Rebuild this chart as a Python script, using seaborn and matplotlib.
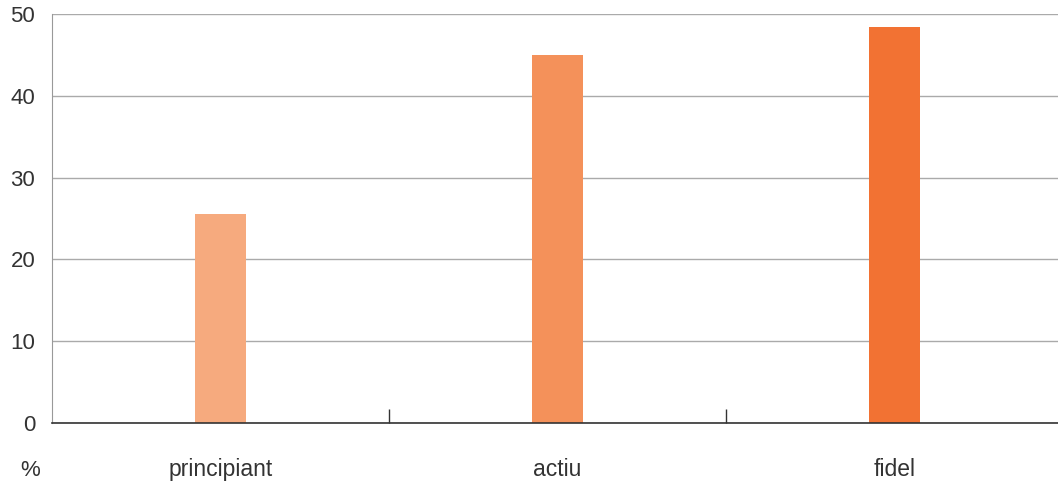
import matplotlib
matplotlib.use("Agg")
import matplotlib.pyplot as plt
import seaborn as sns
import pandas as pd

# data
categories = ["principiant", "actiu", "fidel"]
values = [25.5, 45.0, 48.4]
colors = ["#F6AA7E", "#F4915A", "#F27233"]

df = pd.DataFrame({"cat": categories, "val": values})

sns.set_style("white")
plt.rcParams["font.family"] = ["Liberation Sans", "DejaVu Sans"]

fig = plt.figure(figsize=(10.58, 4.83), dpi=100)
ax = fig.add_axes([0.049, 0.124, 0.956, 0.847])

sns.barplot(data=df, x="cat", y="val", hue="cat", palette=colors,
            width=0.152, legend=False, ax=ax, zorder=3, saturation=1,
            linewidth=0)

ax.set_ylim(0, 50)
ax.set_xlim(-0.5, 2.5)
ax.set_yticks([0, 10, 20, 30, 40, 50])
ax.yaxis.grid(True, color="#AAAAAA", lw=1)
ax.set_axisbelow(True)

for s in ["top", "right"]:
    ax.spines[s].set_visible(False)
ax.spines["left"].set_color("#999999")
ax.spines["bottom"].set_color("#333333")
ax.spines["bottom"].set_linewidth(1.2)
ax.spines["bottom"].set_zorder(4)

ax.tick_params(axis="y", length=0, pad=12, labelsize=16, labelcolor="#333333")
ax.tick_params(axis="x", which="major", length=0, pad=25, labelsize=16.5,
               labelcolor="#333333")
ax.set_xticks([0.5, 1.5], minor=True)
ax.tick_params(axis="x", which="minor", bottom=True, direction="in",
               length=10, width=1, color="#333333")

ax.set_xlabel("")
ax.set_ylabel("")
ax.text(-0.012, -0.115, "%", transform=ax.transAxes, fontsize=16,
        color="#333333", ha="right", va="center")

fig.savefig("out.png", dpi=100)
